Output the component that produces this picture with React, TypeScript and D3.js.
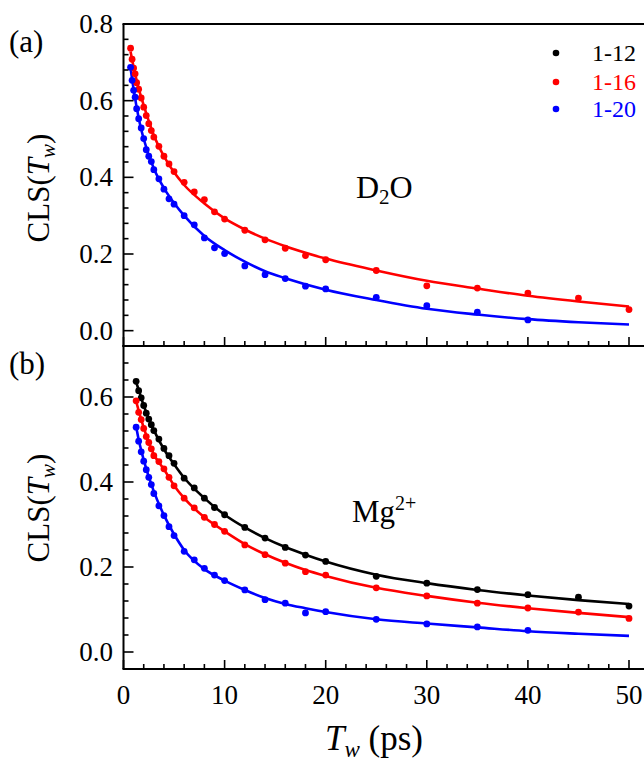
import React from "react";
import * as d3 from "d3";

// ---------- data ----------
const seriesNames = ["1-12", "1-16", "1-20"];
const seriesColors = ["#000000", "#ff0000", "#0000ff"];

// Panel (a) D2O
const tA = [0.7, 0.85, 1.0, 1.15, 1.3, 1.5, 1.75, 2.0, 2.25, 2.5, 2.75, 3.0, 3.5, 4, 4.5, 5, 6, 7, 8, 9, 10, 12, 14, 16, 18, 20, 25, 30, 35, 40, 45, 50];
const aRed = [0.737, 0.708, 0.685, 0.67, 0.647, 0.63, 0.607, 0.583, 0.561, 0.54, 0.522, 0.505, 0.481, 0.455, 0.435, 0.415, 0.387, 0.362, 0.342, 0.31, 0.291, 0.262, 0.237, 0.215, 0.196, 0.185, 0.157, 0.117, 0.111, 0.098, 0.085, 0.055];
const aBlue = [0.687, 0.653, 0.627, 0.609, 0.579, 0.553, 0.529, 0.501, 0.472, 0.455, 0.441, 0.42, 0.396, 0.369, 0.344, 0.33, 0.3, 0.276, 0.242, 0.216, 0.201, 0.169, 0.146, 0.136, 0.116, 0.109, 0.087, 0.065, 0.048, 0.028];

const fitT = [0.7, 1, 1.5, 2, 3, 4, 5, 6, 8, 10, 12, 14, 16, 20, 25, 30, 35, 40, 45, 50];
const aRedFit = [0.728, 0.688, 0.632, 0.588, 0.51, 0.455, 0.413, 0.38, 0.332, 0.293, 0.264, 0.24, 0.22, 0.188, 0.157, 0.13, 0.11, 0.091, 0.076, 0.063];
const aBlueFit = [0.685, 0.63, 0.555, 0.5, 0.423, 0.372, 0.333, 0.3, 0.247, 0.21, 0.18, 0.155, 0.137, 0.107, 0.08, 0.057, 0.042, 0.03, 0.022, 0.016];

// Panel (b) Mg2+
const tB = [1.25, 1.5, 1.75, 2.0, 2.25, 2.5, 2.75, 3.0, 3.5, 4, 4.5, 5, 6, 7, 8, 9, 10, 12, 14, 16, 18, 20, 25, 30, 35, 40, 45, 50];
const bBlack = [0.637, 0.615, 0.598, 0.58, 0.562, 0.548, 0.535, 0.521, 0.501, 0.479, 0.462, 0.444, 0.409, 0.386, 0.362, 0.34, 0.323, 0.293, 0.268, 0.246, 0.228, 0.213, 0.178, 0.162, 0.147, 0.135, 0.129, 0.108];
const bRed = [0.591, 0.564, 0.547, 0.526, 0.507, 0.493, 0.478, 0.462, 0.448, 0.431, 0.411, 0.391, 0.362, 0.339, 0.317, 0.3, 0.284, 0.252, 0.229, 0.209, 0.189, 0.181, 0.151, 0.132, 0.115, 0.1035, 0.094, 0.079];
const bBlue = [0.529, 0.496, 0.471, 0.449, 0.429, 0.411, 0.394, 0.373, 0.344, 0.321, 0.295, 0.274, 0.237, 0.217, 0.197, 0.181, 0.168, 0.146, 0.123, 0.115, 0.092, 0.095, 0.077, 0.066, 0.059, 0.051];

const fitTB = [1.25, 1.5, 2, 3, 4, 5, 6, 8, 10, 12, 14, 16, 18, 20, 25, 30, 35, 40, 45, 50];
const bBlackFit = [0.635, 0.617, 0.58, 0.522, 0.477, 0.442, 0.41, 0.362, 0.323, 0.293, 0.268, 0.247, 0.229, 0.213, 0.182, 0.162, 0.146, 0.133, 0.122, 0.113];
const bRedFit = [0.59, 0.568, 0.528, 0.465, 0.43, 0.392, 0.362, 0.317, 0.284, 0.254, 0.23, 0.21, 0.193, 0.179, 0.151, 0.132, 0.116, 0.103, 0.092, 0.082];
const bBlueFit = [0.53, 0.5, 0.452, 0.378, 0.322, 0.277, 0.24, 0.195, 0.168, 0.146, 0.127, 0.113, 0.103, 0.094, 0.077, 0.067, 0.058, 0.049, 0.043, 0.038];

const xMajor = [0, 10, 20, 30, 40, 50];
const yMajorA = [0.0, 0.2, 0.4, 0.6, 0.8];
const yMajorB = [0.0, 0.2, 0.4, 0.6];

// ---------- layout ----------
const W = 644;
const H = 763;
const left = 123.5;
const right = 644;
const fontStyle = { fontFamily: '"Liberation Serif", Tinos, "Times New Roman", Times, "DejaVu Serif", serif' };

const x = d3.scaleLinear().domain([0, 50]).range([left, 629]);
const yA = d3.scaleLinear().domain([-0.04, 0.8]).range([346, 24]);
const yB = d3.scaleLinear().domain([-0.04, 0.72]).range([669, 346]);

type Series = { t: number[]; v: number[]; color: string };

function Panel({ y, pts, fits, majors, label, yTitleY }: {
  y: d3.ScaleLinear<number, number>;
  pts: Series[];
  fits: Series[];
  majors: number[];
  label: string;
  yTitleY: number;
}) {
  const [y0, y1] = y.range();
  const line = d3
    .line<[number, number]>()
    .x((d) => x(d[0]))
    .y((d) => y(d[1]))
    .curve(d3.curveMonotoneX);
  const [dMin, dMax] = y.domain();
  const minor: number[] = [];
  for (let k = Math.ceil(dMin / 0.04 - 1e-6); k * 0.04 <= dMax + 1e-6; k++) minor.push(+(k * 0.04).toFixed(2));
  const xMinor = d3.range(0, 51, 2);
  return (
    <g>
      {fits.map((s, i) => (
        <path key={"f" + i} d={line(s.t.map((t, j) => [t, s.v[j]]) as [number, number][]) || ""} fill="none" stroke={s.color} strokeWidth={2.6} />
      ))}
      {pts.map((s, i) => (
        <g key={"p" + i}>
          {s.v.map((v, j) => (
            <circle key={j} cx={x(s.t[j])} cy={y(v)} r={3.4} fill={s.color} />
          ))}
        </g>
      ))}
      {minor.map((m, i) => {
        const isMajor = Math.abs(m / 0.2 - Math.round(m / 0.2)) < 1e-6;
        return <line key={"ym" + i} x1={left} x2={left + (isMajor ? 10 : 5)} y1={y(m)} y2={y(m)} stroke="#000" strokeWidth={1.6} />;
      })}
      {majors.map((m) => (
        <text key={"yl" + m} x={113} y={y(m) + 9} textAnchor="end" style={fontStyle} fontSize={27}>
          {m.toFixed(1)}
        </text>
      ))}
      {xMinor.map((t) => (
        <line key={"xm" + t} x1={x(t)} x2={x(t)} y1={y0} y2={y0 - (t % 10 === 0 ? 9 : 5)} stroke="#000" strokeWidth={1.6} />
      ))}
      <line x1={left} x2={left} y1={y1} y2={y0} stroke="#000" strokeWidth={2} />
      <line x1={left - 1} x2={right} y1={y0} y2={y0} stroke="#000" strokeWidth={2} />
      <line x1={left - 1} x2={right} y1={y1} y2={y1} stroke="#000" strokeWidth={2} />
      <text transform={`translate(49,${yTitleY}) rotate(-90)`} textAnchor="middle" style={fontStyle} fontSize={31}>
        CLS(<tspan fontStyle="italic">T</tspan>
        <tspan fontStyle="italic" fontSize={21} dy={6}>w</tspan>
        <tspan dy={-6}>)</tspan>
      </text>
      <text x={9} y={y1 + 28} style={fontStyle} fontSize={31}>{label}</text>
    </g>
  );
}

export default function App() {
  const ptsA: Series[] = [
    { t: tA, v: aRed, color: seriesColors[1] },
    { t: tA.slice(0, aBlue.length), v: aBlue, color: seriesColors[2] },
  ];
  const fitsA: Series[] = [
    { t: fitT, v: aRedFit, color: seriesColors[1] },
    { t: fitT, v: aBlueFit, color: seriesColors[2] },
  ];
  const ptsB: Series[] = [
    { t: tB, v: bBlack, color: seriesColors[0] },
    { t: tB, v: bRed, color: seriesColors[1] },
    { t: tB.slice(0, bBlue.length), v: bBlue, color: seriesColors[2] },
  ];
  const fitsB: Series[] = [
    { t: fitTB, v: bBlackFit, color: seriesColors[0] },
    { t: fitTB, v: bRedFit, color: seriesColors[1] },
    { t: fitTB, v: bBlueFit, color: seriesColors[2] },
  ];
  const legendY = [53, 82, 109];
  return (
    <svg width={W} height={H} style={{ position: "absolute", left: 0, top: 0, background: "#fff" }}>
      <rect width={W} height={H} fill="#fff" />
      <Panel y={yA} pts={ptsA} fits={fitsA} majors={yMajorA} label="(a)" yTitleY={188} />
      <Panel y={yB} pts={ptsB} fits={fitsB} majors={yMajorB} label="(b)" yTitleY={508} />
      {xMajor.map((t) => (
        <text key={t} x={x(t)} y={704} textAnchor="middle" style={fontStyle} fontSize={27}>{t}</text>
      ))}
      <text x={374} y={750} textAnchor="middle" style={fontStyle} fontSize={35}>
        <tspan fontStyle="italic">T</tspan>
        <tspan fontStyle="italic" fontSize={23} dy={7}>w</tspan>
        <tspan dy={-7}> (ps)</tspan>
      </text>
      {seriesNames.map((n, i) => (
        <g key={n}>
          <circle cx={556} cy={legendY[i]} r={3.3} fill={seriesColors[i]} />
          <text x={592} y={legendY[i] + 8} style={fontStyle} fontSize={24} fill={seriesColors[i]}>{n}</text>
        </g>
      ))}
      <text x={356} y={198} style={fontStyle} fontSize={32}>
        D<tspan fontSize={21} dy={6}>2</tspan><tspan dy={-6}>O</tspan>
      </text>
      <text x={352} y={522} style={fontStyle} fontSize={31}>
        Mg<tspan fontSize={20} dy={-12}>2+</tspan>
      </text>
    </svg>
  );
}
